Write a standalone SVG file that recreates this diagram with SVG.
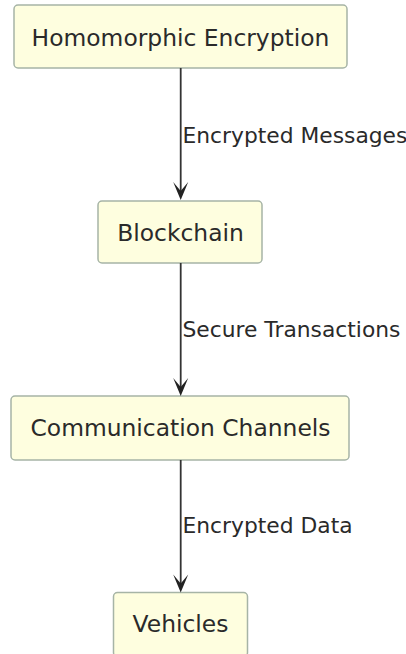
<svg xmlns="http://www.w3.org/2000/svg" width="406" height="654" viewBox="0 0 406 654">
<style>
.box{fill:#FEFEDF;stroke:#A6B4A6;stroke-width:1.5}
.nt{font-family:"DejaVu Sans",sans-serif;font-size:23.4px;fill:#2a2a2a;text-anchor:middle}
.lt{font-family:"DejaVu Sans",sans-serif;font-size:21.8px;fill:#2a2a2a}
.edge{stroke:#333;stroke-width:1.8;fill:none}
.ah{fill:#222}
</style>
<defs>
<polygon id="arrow" class="ah" points="0,0 -7.5,-18 0,-9 7.5,-18"/>
</defs>
<rect width="406" height="654" fill="#fff"/>
<g id="node-he">
<rect class="box" x="14" y="5" width="333" height="63" rx="4"/>
<text class="nt" x="180.5" y="45.5">Homomorphic Encryption</text>
</g>
<g id="node-bc">
<rect class="box" x="98" y="201" width="164" height="62" rx="4"/>
<text class="nt" x="180.5" y="240.5">Blockchain</text>
</g>
<g id="node-cc">
<rect class="box" x="11" y="396" width="338" height="64" rx="4"/>
<text class="nt" x="180.5" y="436">Communication Channels</text>
</g>
<g id="node-v">
<rect class="box" x="113.5" y="592.5" width="134" height="64" rx="4"/>
<text class="nt" x="180.5" y="631.5">Vehicles</text>
</g>
<g id="connectors">
<line class="edge" x1="180.7" y1="68" x2="180.7" y2="193"/>
<use href="#arrow" x="180.7" y="200"/>
<text class="lt" x="182.5" y="142.5">Encrypted Messages</text>
<line class="edge" x1="180.7" y1="263" x2="180.7" y2="388"/>
<use href="#arrow" x="180.7" y="396"/>
<text class="lt" x="182.5" y="337">Secure Transactions</text>
<line class="edge" x1="180.7" y1="460" x2="180.7" y2="585"/>
<use href="#arrow" x="180.7" y="592.5"/>
<text class="lt" x="182.5" y="533">Encrypted Data</text>
</g>
</svg>
